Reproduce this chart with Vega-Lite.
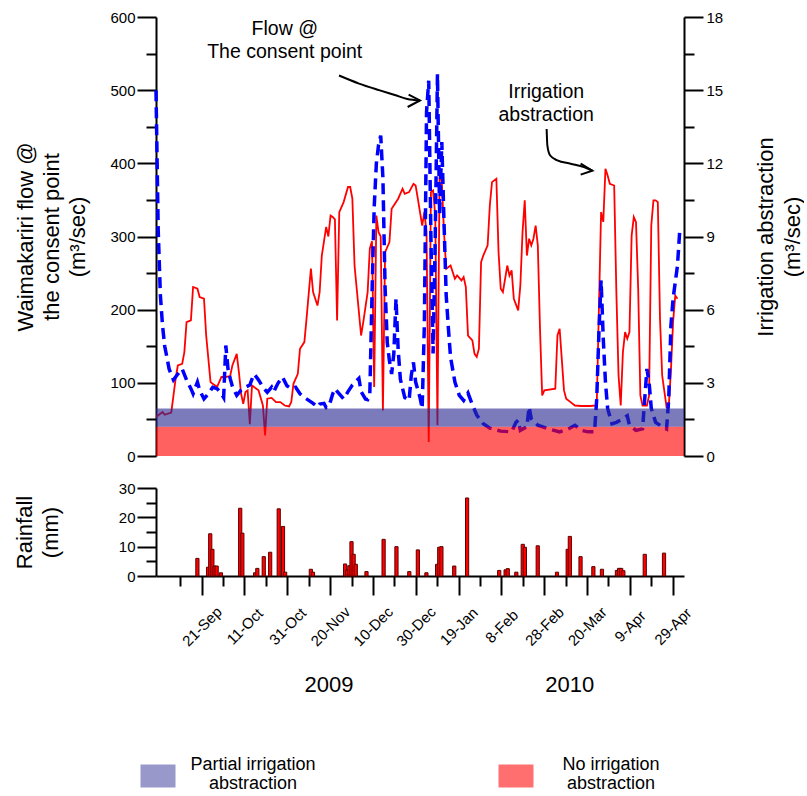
{
  "$schema": "https://vega.github.io/schema/vega-lite/v6.json",
  "background": "white",
  "padding": {"left": 13, "top": 10, "right": 0, "bottom": 0},
  "spacing": 17,
  "config": {
    "font": "Liberation Sans",
    "view": {"stroke": null},
    "axis": {
      "grid": false,
      "domainColor": "black",
      "domainWidth": 2,
      "tickColor": "black",
      "tickWidth": 2,
      "labelColor": "black",
      "labelFontSize": 15,
      "titleColor": "black",
      "titleFontSize": 22,
      "titleFontWeight": "normal",
      "titleLineHeight": 26
    }
  },
  "datasets": {
    "flow": [
      {"date": "2009-09-02", "flow": 500}, {"date": "2009-09-03", "flow": 310}, {"date": "2009-09-04", "flow": 220},
      {"date": "2009-09-05", "flow": 178}, {"date": "2009-09-06", "flow": 150}, {"date": "2009-09-07", "flow": 135},
      {"date": "2009-09-08", "flow": 119}, {"date": "2009-09-10", "flow": 104}, {"date": "2009-09-12", "flow": 112},
      {"date": "2009-09-14", "flow": 119}, {"date": "2009-09-16", "flow": 104}, {"date": "2009-09-18", "flow": 92},
      {"date": "2009-09-19", "flow": 85}, {"date": "2009-09-21", "flow": 101}, {"date": "2009-09-22", "flow": 90},
      {"date": "2009-09-24", "flow": 78}, {"date": "2009-09-26", "flow": 85}, {"date": "2009-09-28", "flow": 94},
      {"date": "2009-09-30", "flow": 92}, {"date": "2009-10-02", "flow": 85}, {"date": "2009-10-03", "flow": 80},
      {"date": "2009-10-04", "flow": 151}, {"date": "2009-10-05", "flow": 119}, {"date": "2009-10-06", "flow": 106},
      {"date": "2009-10-07", "flow": 95}, {"date": "2009-10-09", "flow": 83}, {"date": "2009-10-11", "flow": 90},
      {"date": "2009-10-13", "flow": 94}, {"date": "2009-10-15", "flow": 97}, {"date": "2009-10-16", "flow": 105},
      {"date": "2009-10-17", "flow": 112}, {"date": "2009-10-19", "flow": 104}, {"date": "2009-10-21", "flow": 94},
      {"date": "2009-10-23", "flow": 87}, {"date": "2009-10-25", "flow": 94}, {"date": "2009-10-26", "flow": 88},
      {"date": "2009-10-28", "flow": 100}, {"date": "2009-10-30", "flow": 108}, {"date": "2009-11-01", "flow": 96},
      {"date": "2009-11-03", "flow": 92}, {"date": "2009-11-05", "flow": 94}, {"date": "2009-11-07", "flow": 85},
      {"date": "2009-11-09", "flow": 80}, {"date": "2009-11-11", "flow": 76}, {"date": "2009-11-13", "flow": 72},
      {"date": "2009-11-15", "flow": 67}, {"date": "2009-11-16", "flow": 71}, {"date": "2009-11-18", "flow": 72},
      {"date": "2009-11-19", "flow": 66}, {"date": "2009-11-20", "flow": 67}, {"date": "2009-11-21", "flow": 75},
      {"date": "2009-11-22", "flow": 85}, {"date": "2009-11-23", "flow": 92}, {"date": "2009-11-25", "flow": 85},
      {"date": "2009-11-27", "flow": 78}, {"date": "2009-11-29", "flow": 88}, {"date": "2009-12-01", "flow": 97},
      {"date": "2009-12-03", "flow": 103}, {"date": "2009-12-04", "flow": 106}, {"date": "2009-12-05", "flow": 88},
      {"date": "2009-12-07", "flow": 78}, {"date": "2009-12-08", "flow": 77}, {"date": "2009-12-09", "flow": 85},
      {"date": "2009-12-10", "flow": 220}, {"date": "2009-12-11", "flow": 340}, {"date": "2009-12-12", "flow": 400},
      {"date": "2009-12-13", "flow": 425}, {"date": "2009-12-14", "flow": 438}, {"date": "2009-12-15", "flow": 380},
      {"date": "2009-12-16", "flow": 230}, {"date": "2009-12-17", "flow": 155}, {"date": "2009-12-18", "flow": 130},
      {"date": "2009-12-19", "flow": 112}, {"date": "2009-12-20", "flow": 140}, {"date": "2009-12-21", "flow": 215},
      {"date": "2009-12-22", "flow": 145}, {"date": "2009-12-23", "flow": 105}, {"date": "2009-12-25", "flow": 80},
      {"date": "2009-12-27", "flow": 76}, {"date": "2009-12-28", "flow": 110}, {"date": "2009-12-29", "flow": 128},
      {"date": "2009-12-30", "flow": 101}, {"date": "2010-01-01", "flow": 80}, {"date": "2010-01-02", "flow": 65},
      {"date": "2010-01-03", "flow": 180}, {"date": "2010-01-04", "flow": 470}, {"date": "2010-01-05", "flow": 513},
      {"date": "2010-01-06", "flow": 300}, {"date": "2010-01-07", "flow": 140}, {"date": "2010-01-08", "flow": 300},
      {"date": "2010-01-09", "flow": 522}, {"date": "2010-01-10", "flow": 330}, {"date": "2010-01-11", "flow": 429},
      {"date": "2010-01-12", "flow": 320}, {"date": "2010-01-13", "flow": 220}, {"date": "2010-01-14", "flow": 175},
      {"date": "2010-01-15", "flow": 135}, {"date": "2010-01-17", "flow": 101}, {"date": "2010-01-19", "flow": 83},
      {"date": "2010-01-21", "flow": 76}, {"date": "2010-01-23", "flow": 86}, {"date": "2010-01-25", "flow": 70},
      {"date": "2010-01-27", "flow": 56}, {"date": "2010-01-30", "flow": 44}, {"date": "2010-02-02", "flow": 38},
      {"date": "2010-02-07", "flow": 34}, {"date": "2010-02-12", "flow": 33}, {"date": "2010-02-14", "flow": 46},
      {"date": "2010-02-15", "flow": 49}, {"date": "2010-02-16", "flow": 35}, {"date": "2010-02-19", "flow": 40},
      {"date": "2010-02-20", "flow": 67}, {"date": "2010-02-21", "flow": 51}, {"date": "2010-02-24", "flow": 42},
      {"date": "2010-03-01", "flow": 37}, {"date": "2010-03-06", "flow": 33}, {"date": "2010-03-10", "flow": 37},
      {"date": "2010-03-13", "flow": 42}, {"date": "2010-03-16", "flow": 35}, {"date": "2010-03-19", "flow": 33},
      {"date": "2010-03-22", "flow": 33}, {"date": "2010-03-23", "flow": 78}, {"date": "2010-03-24", "flow": 169},
      {"date": "2010-03-25", "flow": 240}, {"date": "2010-03-26", "flow": 160}, {"date": "2010-03-27", "flow": 101},
      {"date": "2010-03-28", "flow": 65}, {"date": "2010-03-30", "flow": 44}, {"date": "2010-04-01", "flow": 46},
      {"date": "2010-04-04", "flow": 51}, {"date": "2010-04-06", "flow": 55}, {"date": "2010-04-07", "flow": 42},
      {"date": "2010-04-10", "flow": 35}, {"date": "2010-04-13", "flow": 37}, {"date": "2010-04-14", "flow": 78},
      {"date": "2010-04-15", "flow": 119}, {"date": "2010-04-16", "flow": 101}, {"date": "2010-04-17", "flow": 65},
      {"date": "2010-04-19", "flow": 46}, {"date": "2010-04-22", "flow": 40}, {"date": "2010-04-24", "flow": 37},
      {"date": "2010-04-25", "flow": 78}, {"date": "2010-04-26", "flow": 178}, {"date": "2010-04-27", "flow": 215},
      {"date": "2010-04-29", "flow": 260}, {"date": "2010-04-30", "flow": 306}, {"date": "2010-05-02", "flow": 310}
    ],
    "irrigation": [
      {"date": "2009-09-02", "irrigation": 1.6}, {"date": "2009-09-05", "irrigation": 1.8}, {"date": "2009-09-06", "irrigation": 1.69},
      {"date": "2009-09-09", "irrigation": 1.78}, {"date": "2009-09-11", "irrigation": 3.17}, {"date": "2009-09-12", "irrigation": 3.71},
      {"date": "2009-09-14", "irrigation": 3.78}, {"date": "2009-09-15", "irrigation": 4.26}, {"date": "2009-09-16", "irrigation": 5.49},
      {"date": "2009-09-18", "irrigation": 5.56}, {"date": "2009-09-19", "irrigation": 6.93}, {"date": "2009-09-21", "irrigation": 6.86},
      {"date": "2009-09-22", "irrigation": 6.52}, {"date": "2009-09-24", "irrigation": 6.45}, {"date": "2009-09-25", "irrigation": 4.94},
      {"date": "2009-09-27", "irrigation": 3.03}, {"date": "2009-09-28", "irrigation": 2.96}, {"date": "2009-09-30", "irrigation": 2.83},
      {"date": "2009-10-02", "irrigation": 3.24}, {"date": "2009-10-04", "irrigation": 3.24}, {"date": "2009-10-06", "irrigation": 3.28},
      {"date": "2009-10-07", "irrigation": 3.71}, {"date": "2009-10-09", "irrigation": 4.19}, {"date": "2009-10-10", "irrigation": 3.44},
      {"date": "2009-10-11", "irrigation": 2.55}, {"date": "2009-10-12", "irrigation": 2.14}, {"date": "2009-10-13", "irrigation": 2.62},
      {"date": "2009-10-14", "irrigation": 2.69}, {"date": "2009-10-15", "irrigation": 1.3}, {"date": "2009-10-16", "irrigation": 2.89},
      {"date": "2009-10-19", "irrigation": 2.69}, {"date": "2009-10-21", "irrigation": 2.07}, {"date": "2009-10-22", "irrigation": 0.84},
      {"date": "2009-10-23", "irrigation": 2.35}, {"date": "2009-10-25", "irrigation": 2.38}, {"date": "2009-10-27", "irrigation": 2.21},
      {"date": "2009-10-29", "irrigation": 2.21}, {"date": "2009-10-31", "irrigation": 2.07}, {"date": "2009-11-02", "irrigation": 2.03},
      {"date": "2009-11-03", "irrigation": 2.21}, {"date": "2009-11-04", "irrigation": 2.96}, {"date": "2009-11-06", "irrigation": 3.37},
      {"date": "2009-11-07", "irrigation": 4.4}, {"date": "2009-11-09", "irrigation": 4.67}, {"date": "2009-11-10", "irrigation": 5.63},
      {"date": "2009-11-12", "irrigation": 7.68}, {"date": "2009-11-13", "irrigation": 6.72}, {"date": "2009-11-15", "irrigation": 6.17},
      {"date": "2009-11-16", "irrigation": 6.72}, {"date": "2009-11-17", "irrigation": 8.22}, {"date": "2009-11-19", "irrigation": 9.39},
      {"date": "2009-11-20", "irrigation": 9.0}, {"date": "2009-11-21", "irrigation": 9.86}, {"date": "2009-11-22", "irrigation": 9.8},
      {"date": "2009-11-23", "irrigation": 9.7}, {"date": "2009-11-24", "irrigation": 5.56}, {"date": "2009-11-25", "irrigation": 10.0},
      {"date": "2009-11-27", "irrigation": 10.41}, {"date": "2009-11-29", "irrigation": 11.03}, {"date": "2009-11-30", "irrigation": 11.03},
      {"date": "2009-12-01", "irrigation": 10.55}, {"date": "2009-12-02", "irrigation": 7.81}, {"date": "2009-12-05", "irrigation": 4.94},
      {"date": "2009-12-06", "irrigation": 5.49}, {"date": "2009-12-08", "irrigation": 6.72}, {"date": "2009-12-09", "irrigation": 8.5},
      {"date": "2009-12-10", "irrigation": 8.8}, {"date": "2009-12-11", "irrigation": 2.83}, {"date": "2009-12-12", "irrigation": 9.86},
      {"date": "2009-12-13", "irrigation": 9.18}, {"date": "2009-12-14", "irrigation": 9.0}, {"date": "2009-12-15", "irrigation": 1.87},
      {"date": "2009-12-16", "irrigation": 8.36}, {"date": "2009-12-18", "irrigation": 8.77}, {"date": "2009-12-19", "irrigation": 10.14},
      {"date": "2009-12-22", "irrigation": 10.55}, {"date": "2009-12-24", "irrigation": 10.96}, {"date": "2009-12-25", "irrigation": 10.75},
      {"date": "2009-12-27", "irrigation": 10.82}, {"date": "2009-12-29", "irrigation": 11.16}, {"date": "2009-12-30", "irrigation": 11.09},
      {"date": "2009-12-31", "irrigation": 10.55}, {"date": "2010-01-01", "irrigation": 10.0}, {"date": "2010-01-02", "irrigation": 9.45},
      {"date": "2010-01-03", "irrigation": 10.0}, {"date": "2010-01-04", "irrigation": 9.18}, {"date": "2010-01-05", "irrigation": 0.57},
      {"date": "2010-01-06", "irrigation": 10.82}, {"date": "2010-01-07", "irrigation": 10.89}, {"date": "2010-01-08", "irrigation": 9.86},
      {"date": "2010-01-09", "irrigation": 1.26}, {"date": "2010-01-10", "irrigation": 11.78}, {"date": "2010-01-11", "irrigation": 11.23},
      {"date": "2010-01-12", "irrigation": 9.18}, {"date": "2010-01-13", "irrigation": 7.68}, {"date": "2010-01-15", "irrigation": 7.81},
      {"date": "2010-01-17", "irrigation": 7.27}, {"date": "2010-01-18", "irrigation": 7.4}, {"date": "2010-01-20", "irrigation": 7.2},
      {"date": "2010-01-21", "irrigation": 7.34}, {"date": "2010-01-22", "irrigation": 6.93}, {"date": "2010-01-23", "irrigation": 4.94},
      {"date": "2010-01-25", "irrigation": 4.74}, {"date": "2010-01-26", "irrigation": 4.19}, {"date": "2010-01-27", "irrigation": 4.06},
      {"date": "2010-01-28", "irrigation": 4.4}, {"date": "2010-01-29", "irrigation": 7.95}, {"date": "2010-01-30", "irrigation": 8.22},
      {"date": "2010-02-01", "irrigation": 8.64}, {"date": "2010-02-02", "irrigation": 10.27}, {"date": "2010-02-03", "irrigation": 11.23},
      {"date": "2010-02-05", "irrigation": 11.37}, {"date": "2010-02-06", "irrigation": 8.36}, {"date": "2010-02-07", "irrigation": 6.86},
      {"date": "2010-02-08", "irrigation": 6.72}, {"date": "2010-02-10", "irrigation": 7.81}, {"date": "2010-02-11", "irrigation": 7.4},
      {"date": "2010-02-12", "irrigation": 7.61}, {"date": "2010-02-13", "irrigation": 6.45}, {"date": "2010-02-15", "irrigation": 5.97},
      {"date": "2010-02-16", "irrigation": 7.0}, {"date": "2010-02-17", "irrigation": 9.18}, {"date": "2010-02-18", "irrigation": 10.48},
      {"date": "2010-02-19", "irrigation": 8.22}, {"date": "2010-02-20", "irrigation": 8.91}, {"date": "2010-02-21", "irrigation": 8.64},
      {"date": "2010-02-22", "irrigation": 8.91}, {"date": "2010-02-23", "irrigation": 9.45}, {"date": "2010-02-24", "irrigation": 8.64},
      {"date": "2010-02-25", "irrigation": 5.22}, {"date": "2010-02-26", "irrigation": 2.48}, {"date": "2010-02-27", "irrigation": 2.69},
      {"date": "2010-03-04", "irrigation": 2.76}, {"date": "2010-03-05", "irrigation": 4.94}, {"date": "2010-03-06", "irrigation": 5.22},
      {"date": "2010-03-08", "irrigation": 2.69}, {"date": "2010-03-09", "irrigation": 2.35}, {"date": "2010-03-11", "irrigation": 2.21},
      {"date": "2010-03-13", "irrigation": 2.07}, {"date": "2010-03-16", "irrigation": 2.05}, {"date": "2010-03-20", "irrigation": 2.05},
      {"date": "2010-03-23", "irrigation": 2.07}, {"date": "2010-03-25", "irrigation": 10.0}, {"date": "2010-03-26", "irrigation": 9.6},
      {"date": "2010-03-27", "irrigation": 11.78}, {"date": "2010-03-28", "irrigation": 11.5}, {"date": "2010-03-29", "irrigation": 11.16},
      {"date": "2010-03-31", "irrigation": 11.09}, {"date": "2010-04-01", "irrigation": 6.72}, {"date": "2010-04-02", "irrigation": 3.3},
      {"date": "2010-04-03", "irrigation": 2.07}, {"date": "2010-04-04", "irrigation": 4.26}, {"date": "2010-04-05", "irrigation": 5.08},
      {"date": "2010-04-06", "irrigation": 4.81}, {"date": "2010-04-07", "irrigation": 5.08}, {"date": "2010-04-08", "irrigation": 9.04},
      {"date": "2010-04-09", "irrigation": 9.8}, {"date": "2010-04-10", "irrigation": 9.59}, {"date": "2010-04-11", "irrigation": 6.86},
      {"date": "2010-04-12", "irrigation": 2.48}, {"date": "2010-04-13", "irrigation": 2.07}, {"date": "2010-04-15", "irrigation": 2.07},
      {"date": "2010-04-16", "irrigation": 2.48}, {"date": "2010-04-17", "irrigation": 9.45}, {"date": "2010-04-18", "irrigation": 10.48},
      {"date": "2010-04-19", "irrigation": 10.48}, {"date": "2010-04-20", "irrigation": 10.41}, {"date": "2010-04-21", "irrigation": 5.63},
      {"date": "2010-04-22", "irrigation": 3.3}, {"date": "2010-04-24", "irrigation": 2.01}, {"date": "2010-04-25", "irrigation": 2.01},
      {"date": "2010-04-26", "irrigation": 3.5}, {"date": "2010-04-27", "irrigation": 5.5}, {"date": "2010-04-28", "irrigation": 6.58},
      {"date": "2010-04-29", "irrigation": 6.45}
    ],
    "rain": [
      {"date": "2009-09-19", "rainfall": 6.0}, {"date": "2009-09-24", "rainfall": 3.0}, {"date": "2009-09-25", "rainfall": 14.4},
      {"date": "2009-09-26", "rainfall": 9.1}, {"date": "2009-09-27", "rainfall": 3.4}, {"date": "2009-09-28", "rainfall": 3.4},
      {"date": "2009-09-30", "rainfall": 1.1}, {"date": "2009-10-09", "rainfall": 23.1}, {"date": "2009-10-10", "rainfall": 14.6},
      {"date": "2009-10-16", "rainfall": 1.1}, {"date": "2009-10-17", "rainfall": 2.6}, {"date": "2009-10-20", "rainfall": 6.6},
      {"date": "2009-10-23", "rainfall": 8.1}, {"date": "2009-10-27", "rainfall": 22.9}, {"date": "2009-10-29", "rainfall": 16.9},
      {"date": "2009-10-30", "rainfall": 1.3}, {"date": "2009-11-11", "rainfall": 2.3}, {"date": "2009-11-12", "rainfall": 1.3},
      {"date": "2009-11-27", "rainfall": 4.1}, {"date": "2009-11-28", "rainfall": 2.1}, {"date": "2009-11-29", "rainfall": 3.5},
      {"date": "2009-11-30", "rainfall": 11.7}, {"date": "2009-12-01", "rainfall": 7.4}, {"date": "2009-12-02", "rainfall": 4.0},
      {"date": "2009-12-07", "rainfall": 1.5}, {"date": "2009-12-15", "rainfall": 12.5}, {"date": "2009-12-21", "rainfall": 10.0},
      {"date": "2009-12-27", "rainfall": 1.5}, {"date": "2009-12-31", "rainfall": 8.9}, {"date": "2010-01-04", "rainfall": 1.1},
      {"date": "2010-01-09", "rainfall": 4.0}, {"date": "2010-01-10", "rainfall": 9.8}, {"date": "2010-01-11", "rainfall": 10.0},
      {"date": "2010-01-17", "rainfall": 3.4}, {"date": "2010-01-23", "rainfall": 26.6}, {"date": "2010-02-07", "rainfall": 1.9},
      {"date": "2010-02-10", "rainfall": 2.1}, {"date": "2010-02-11", "rainfall": 2.5}, {"date": "2010-02-15", "rainfall": 1.3},
      {"date": "2010-02-18", "rainfall": 10.8}, {"date": "2010-02-19", "rainfall": 9.8}, {"date": "2010-02-25", "rainfall": 10.3},
      {"date": "2010-03-06", "rainfall": 1.3}, {"date": "2010-03-11", "rainfall": 9.1}, {"date": "2010-03-12", "rainfall": 13.5},
      {"date": "2010-03-17", "rainfall": 6.6}, {"date": "2010-03-23", "rainfall": 3.2}, {"date": "2010-03-27", "rainfall": 2.3},
      {"date": "2010-04-03", "rainfall": 1.9}, {"date": "2010-04-04", "rainfall": 2.6}, {"date": "2010-04-05", "rainfall": 2.6},
      {"date": "2010-04-06", "rainfall": 1.8}, {"date": "2010-04-16", "rainfall": 7.4}, {"date": "2010-04-25", "rainfall": 7.8}
    ],
    "bands": [
      {"zone": "No irrigation abstraction", "start": "2009-09-02", "end": "2010-05-02", "low": 0, "high": 40},
      {"zone": "Partial irrigation abstraction", "start": "2009-09-02", "end": "2010-05-02", "low": 40, "high": 65}
    ],
    "notes": [
      {"label": "Flow @\nThe consent point", "date": "2009-10-31T00:00:00Z", "value": 583},
      {"label": "Irrigation\nabstraction", "date": "2010-02-27T20:00:00Z", "value": 498}
    ],
    "arrows": [
      {"arrow": "flow", "part": "shaft", "order": 1, "date": "2009-11-24T21:00:00Z", "value": 520},
      {"arrow": "flow", "part": "shaft", "order": 2, "date": "2009-12-04T01:00:00Z", "value": 509},
      {"arrow": "flow", "part": "shaft", "order": 3, "date": "2009-12-13T05:00:00Z", "value": 500},
      {"arrow": "flow", "part": "shaft", "order": 4, "date": "2009-12-20T20:00:00Z", "value": 493},
      {"arrow": "flow", "part": "shaft", "order": 5, "date": "2009-12-26T05:00:00Z", "value": 488},
      {"arrow": "flow", "part": "shaft", "order": 6, "date": "2010-01-01T00:00:00Z", "value": 486},
      {"arrow": "flow", "part": "head", "order": 1, "date": "2009-12-26T19:00:00Z", "value": 494},
      {"arrow": "flow", "part": "head", "order": 2, "date": "2010-01-01T00:00:00Z", "value": 486},
      {"arrow": "flow", "part": "head", "order": 3, "date": "2009-12-26T08:00:00Z", "value": 477},
      {"arrow": "irrigation", "part": "shaft", "order": 1, "date": "2010-02-28T01:00:00Z", "value": 447},
      {"arrow": "irrigation", "part": "shaft", "order": 2, "date": "2010-02-28T09:00:00Z", "value": 424.5},
      {"arrow": "irrigation", "part": "shaft", "order": 3, "date": "2010-03-01T14:00:00Z", "value": 411},
      {"arrow": "irrigation", "part": "shaft", "order": 4, "date": "2010-03-04T23:00:00Z", "value": 404},
      {"arrow": "irrigation", "part": "shaft", "order": 5, "date": "2010-03-11T01:00:00Z", "value": 399.5},
      {"arrow": "irrigation", "part": "shaft", "order": 6, "date": "2010-03-17T04:00:00Z", "value": 395},
      {"arrow": "irrigation", "part": "shaft", "order": 7, "date": "2010-03-21T00:00:00Z", "value": 390},
      {"arrow": "irrigation", "part": "head", "order": 1, "date": "2010-03-15T15:00:00Z", "value": 399.5},
      {"arrow": "irrigation", "part": "head", "order": 2, "date": "2010-03-21T00:00:00Z", "value": 390},
      {"arrow": "irrigation", "part": "head", "order": 3, "date": "2010-03-15T15:00:00Z", "value": 384.5}
    ],
    "legend": [
      {"zone": "Partial irrigation abstraction", "label": "Partial irrigation\nabstraction"},
      {"zone": "No irrigation abstraction", "label": "No irrigation\nabstraction"}
    ]
  },
  "vconcat": [
    {
      "width": 528,
      "height": 439,
      "layer": [
        {
          "data": {"name": "irrigation"},
          "layer": [
            {
              "mark": {"type": "line", "color": "#ff0000", "strokeWidth": 1.8},
              "encoding": {
                "x": {"field": "date", "type": "temporal", "scale": {"type": "utc", "domain": [{"year": 2009, "month": 9, "date": 2, "utc": true}, {"year": 2010, "month": 5, "date": 2, "utc": true}]}, "axis": null},
                "y": {
                  "field": "irrigation", "type": "quantitative",
                  "scale": {"domain": [0, 18], "nice": false},
                  "axis": {
                    "orient": "right",
                    "values": [0, 3, 6, 9, 12, 15, 18],
                    "tickSize": 19,
                    "labelPadding": 3,
                    "title": ["Irrigation abstraction", "(m³/sec)"],
                    "titleAngle": -90,
                    "titleBaseline": "top",
                    "titleLineHeight": 27,
                    "titlePadding": 6
                  }
                }
              }
            },
            {
              "mark": {"type": "line", "strokeOpacity": 0},
              "encoding": {
                "x": {"field": "date", "type": "temporal", "scale": {"type": "utc", "domain": [{"year": 2009, "month": 9, "date": 2, "utc": true}, {"year": 2010, "month": 5, "date": 2, "utc": true}]}, "axis": null},
                "y": {
                  "field": "irrigation", "type": "quantitative",
                  "scale": {"domain": [0, 18], "nice": false},
                  "axis": {"orient": "right", "values": [1.5, 4.5, 7.5, 10.5, 13.5, 16.5], "tickSize": 10, "labels": false, "domain": false, "title": null}
                }
              }
            }
          ],
          "resolve": {"axis": {"y": "independent"}}
        },
        {
          "layer": [
            {
              "data": {"name": "flow"},
              "mark": {"type": "line", "color": "#0000ff", "strokeWidth": 3.5, "strokeDash": [11, 6]},
              "encoding": {
                "x": {"field": "date", "type": "temporal", "scale": {"type": "utc", "domain": [{"year": 2009, "month": 9, "date": 2, "utc": true}, {"year": 2010, "month": 5, "date": 2, "utc": true}]}, "axis": null},
                "y": {
                  "field": "flow", "type": "quantitative",
                  "scale": {"domain": [0, 600], "nice": false},
                  "axis": {
                    "orient": "left",
                    "values": [0, 100, 200, 300, 400, 500, 600],
                    "tickSize": 19,
                    "labelPadding": 2,
                    "title": ["Waimakariri flow @", "the consent point", "(m³/sec)"],
                    "titlePadding": 20
                  }
                }
              }
            },
            {
              "data": {"name": "flow"},
              "mark": {"type": "line", "strokeOpacity": 0},
              "encoding": {
                "x": {"field": "date", "type": "temporal", "scale": {"type": "utc", "domain": [{"year": 2009, "month": 9, "date": 2, "utc": true}, {"year": 2010, "month": 5, "date": 2, "utc": true}]}, "axis": null},
                "y": {
                  "field": "flow", "type": "quantitative",
                  "scale": {"domain": [0, 600], "nice": false},
                  "axis": {"orient": "left", "values": [50, 150, 250, 350, 450, 550], "tickSize": 10, "labels": false, "domain": false, "title": null}
                }
              }
            },
            {
              "data": {"name": "bands"},
              "mark": {"type": "rect", "opacity": 0.62},
              "encoding": {
                "x": {"field": "start", "type": "temporal", "scale": {"type": "utc", "domain": [{"year": 2009, "month": 9, "date": 2, "utc": true}, {"year": 2010, "month": 5, "date": 2, "utc": true}]}, "axis": null},
                "x2": {"field": "end"},
                "y": {"field": "low", "type": "quantitative", "scale": {"domain": [0, 600], "nice": false}, "axis": null},
                "y2": {"field": "high"},
                "color": {"field": "zone", "type": "nominal", "scale": {"domain": ["Partial irrigation abstraction", "No irrigation abstraction"], "range": ["#2a2891", "#ff0000"]}, "legend": null}
              }
            },
            {
              "data": {"name": "notes"},
              "mark": {"type": "text", "fontSize": 19.5, "lineBreak": "\n", "lineHeight": 23, "align": "center", "baseline": "middle", "color": "black"},
              "encoding": {
                "x": {"field": "date", "type": "temporal", "scale": {"type": "utc", "domain": [{"year": 2009, "month": 9, "date": 2, "utc": true}, {"year": 2010, "month": 5, "date": 2, "utc": true}]}, "axis": null},
                "y": {"field": "value", "type": "quantitative", "scale": {"domain": [0, 600], "nice": false}, "axis": null},
                "text": {"field": "label"}
              }
            },
            {
              "data": {"name": "arrows"},
              "transform": [{"filter": "datum.part === 'shaft'"}],
              "mark": {"type": "line", "color": "black", "strokeWidth": 2, "interpolate": "monotone"},
              "encoding": {
                "x": {"field": "date", "type": "temporal", "scale": {"type": "utc", "domain": [{"year": 2009, "month": 9, "date": 2, "utc": true}, {"year": 2010, "month": 5, "date": 2, "utc": true}]}, "axis": null},
                "y": {"field": "value", "type": "quantitative", "scale": {"domain": [0, 600], "nice": false}, "axis": null},
                "detail": {"field": "arrow"},
                "order": {"field": "order"}
              }
            },
            {
              "data": {"name": "arrows"},
              "transform": [{"filter": "datum.part === 'head'"}],
              "mark": {"type": "line", "color": "black", "strokeWidth": 2, "strokeJoin": "miter"},
              "encoding": {
                "x": {"field": "date", "type": "temporal", "scale": {"type": "utc", "domain": [{"year": 2009, "month": 9, "date": 2, "utc": true}, {"year": 2010, "month": 5, "date": 2, "utc": true}]}, "axis": null},
                "y": {"field": "value", "type": "quantitative", "scale": {"domain": [0, 600], "nice": false}, "axis": null},
                "detail": {"field": "arrow"},
                "order": {"field": "order"}
              }
            }
          ],
          "resolve": {"axis": {"y": "independent"}}
        }
      ],
      "resolve": {"scale": {"y": "independent"}}
    },
    {
      "data": {"name": "rain"},
      "width": 528,
      "height": 88,
      "layer": [
        {
          "mark": {"type": "bar", "color": "#ff0000", "stroke": "#5a0000", "strokeWidth": 1, "width": 3.2},
          "encoding": {
            "x": {
              "field": "date", "type": "temporal",
              "scale": {"type": "utc", "domain": [{"year": 2009, "month": 9, "date": 2, "utc": true}, {"year": 2010, "month": 5, "date": 2, "utc": true}]},
              "axis": {
                "orient": "bottom",
                "title": null,
                "values": [
                  {"year": 2009, "month": 9, "date": 21, "utc": true}, {"year": 2009, "month": 10, "date": 11, "utc": true},
                  {"year": 2009, "month": 10, "date": 31, "utc": true}, {"year": 2009, "month": 11, "date": 20, "utc": true},
                  {"year": 2009, "month": 12, "date": 10, "utc": true}, {"year": 2009, "month": 12, "date": 30, "utc": true},
                  {"year": 2010, "month": 1, "date": 19, "utc": true}, {"year": 2010, "month": 2, "date": 8, "utc": true},
                  {"year": 2010, "month": 2, "date": 28, "utc": true}, {"year": 2010, "month": 3, "date": 20, "utc": true},
                  {"year": 2010, "month": 4, "date": 9, "utc": true}, {"year": 2010, "month": 4, "date": 29, "utc": true}
                ],
                "tickSize": 19,
                "labelExpr": "utcFormat(datum.value, '%-d-%b')",
                "labelAngle": -45,
                "labelAlign": "center",
                "labelBaseline": "middle",
                "labelPadding": 31,
                "labelFlush": false,
                "labelOverlap": false,
                "labelBound": false
              }
            },
            "y": {
              "field": "rainfall", "type": "quantitative",
              "scale": {"domain": [0, 30], "nice": false},
              "axis": {
                "orient": "left",
                "values": [0, 10, 20, 30],
                "tickSize": 19,
                "labelPadding": 2,
                "title": ["Rainfall", "(mm)"],
                "titlePadding": 56
              }
            }
          }
        },
        {
          "mark": {"type": "bar", "opacity": 0, "width": 3.2},
          "encoding": {
            "x": {
              "field": "date", "type": "temporal",
              "scale": {"type": "utc", "domain": [{"year": 2009, "month": 9, "date": 2, "utc": true}, {"year": 2010, "month": 5, "date": 2, "utc": true}]},
              "axis": {
                "orient": "bottom",
                "title": null,
                "domain": false,
                "labels": false,
                "tickSize": 10,
                "values": [
                  {"year": 2009, "month": 9, "date": 11, "utc": true}, {"year": 2009, "month": 10, "date": 1, "utc": true},
                  {"year": 2009, "month": 10, "date": 21, "utc": true}, {"year": 2009, "month": 11, "date": 10, "utc": true},
                  {"year": 2009, "month": 11, "date": 30, "utc": true}, {"year": 2009, "month": 12, "date": 20, "utc": true},
                  {"year": 2010, "month": 1, "date": 9, "utc": true}, {"year": 2010, "month": 1, "date": 29, "utc": true},
                  {"year": 2010, "month": 2, "date": 18, "utc": true}, {"year": 2010, "month": 3, "date": 10, "utc": true},
                  {"year": 2010, "month": 3, "date": 30, "utc": true}, {"year": 2010, "month": 4, "date": 19, "utc": true}
                ]
              }
            },
            "y": {
              "field": "rainfall", "type": "quantitative",
              "scale": {"domain": [0, 30], "nice": false},
              "axis": {"orient": "left", "values": [5, 15, 25], "tickSize": 10, "labels": false, "domain": false, "title": null}
            }
          }
        },
        {
          "mark": {"type": "rule", "opacity": 0},
          "encoding": {
            "x": {
              "field": "date", "type": "temporal",
              "scale": {"type": "utc", "domain": [{"year": 2009, "month": 9, "date": 2, "utc": true}, {"year": 2010, "month": 5, "date": 2, "utc": true}]},
              "axis": {
                "orient": "bottom",
                "title": null,
                "domain": false,
                "ticks": false,
                "tickSize": 0,
                "values": [{"year": 2009, "month": 11, "date": 19, "hours": 7, "utc": true}, {"year": 2010, "month": 3, "date": 11, "hours": 17, "utc": true}],
                "labelExpr": "utcFormat(datum.value, '%Y')",
                "labelFontSize": 22,
                "labelAngle": 0,
                "labelAlign": "center",
                "labelBaseline": "middle",
                "labelPadding": 108,
                "labelFlush": false,
                "labelOverlap": false
              }
            }
          }
        }
      ],
      "resolve": {"axis": {"x": "independent", "y": "independent"}}
    },
    {
      "data": {"name": "legend"},
      "width": 528,
      "height": 40,
      "layer": [
        {
          "mark": {"type": "point", "shape": "M-1,-0.657H1V0.657H-1Z", "filled": true, "size": 1225, "strokeWidth": 0, "yOffset": 44},
          "encoding": {
            "x": {"field": "zone", "type": "nominal", "scale": {"type": "point", "padding": 0, "domain": ["Partial irrigation abstraction", "No irrigation abstraction"], "range": [2, 360]}, "axis": null},
            "color": {"field": "zone", "type": "nominal", "scale": {"domain": ["Partial irrigation abstraction", "No irrigation abstraction"], "range": ["#2a2891", "#ff0000"]}, "legend": null},
            "opacity": {"condition": {"test": "datum.zone === 'No irrigation abstraction'", "value": 0.565}, "value": 0.48}
          }
        },
        {
          "mark": {"type": "text", "fontSize": 18, "lineBreak": "\n", "lineHeight": 19, "align": "center", "baseline": "middle", "dx": 95, "yOffset": 33, "color": "black"},
          "encoding": {
            "x": {"field": "zone", "type": "nominal", "scale": {"type": "point", "padding": 0, "domain": ["Partial irrigation abstraction", "No irrigation abstraction"], "range": [2, 360]}, "axis": null},
            "text": {"field": "label"}
          }
        }
      ]
    }
  ]
}
